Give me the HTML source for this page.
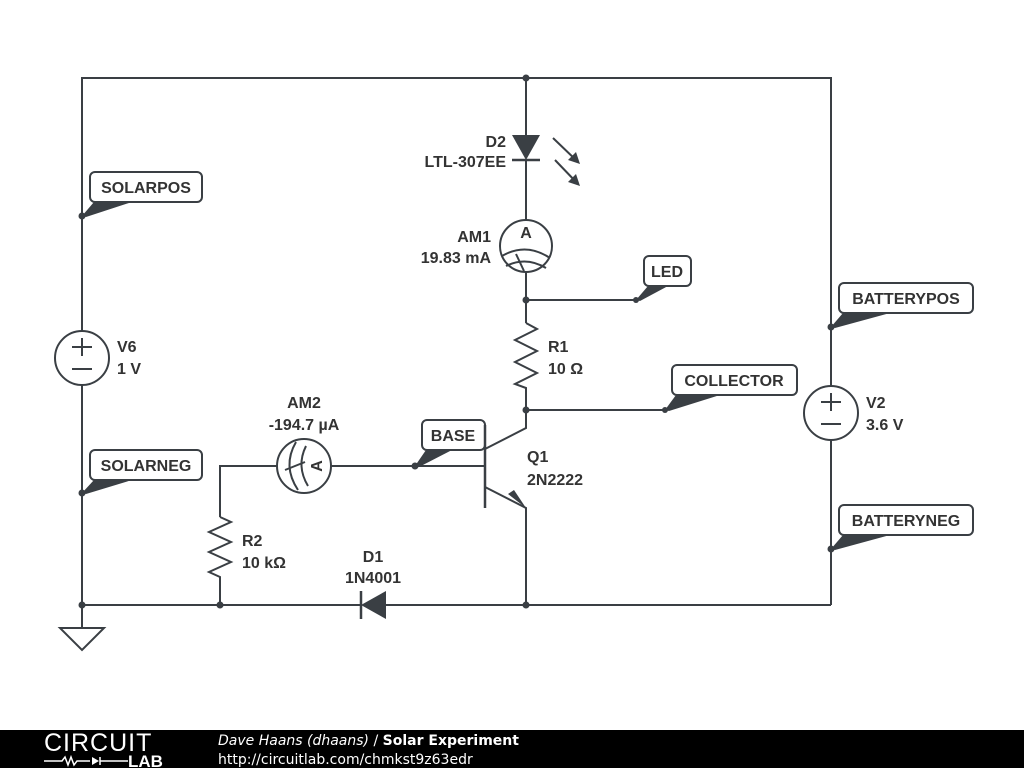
<!DOCTYPE html>
<html><head><meta charset="utf-8"><style>
html,body{margin:0;padding:0;background:#fff;width:1024px;height:768px;overflow:hidden}
svg{display:block}
text{font-family:"Liberation Sans",sans-serif;font-weight:bold;font-size:16px;fill:#333}
.foot{position:absolute;left:0;top:730px;width:1024px;height:38px;background:#000}
</style></head><body>
<svg width="1024" height="730" viewBox="0 0 1024 730">
<g stroke="#3a3f44" stroke-width="2" fill="none">
<polyline points="82,216 82,78 831,78 831,386"/>
<line x1="82" y1="216" x2="82" y2="331"/>
<line x1="82" y1="385" x2="82" y2="628"/>
<line x1="831" y1="440" x2="831" y2="605"/>
<line x1="82" y1="605" x2="361" y2="605"/>
<line x1="386" y1="605" x2="831" y2="605"/>
<line x1="526" y1="78" x2="526" y2="135"/>
<line x1="526" y1="160" x2="526" y2="220"/>
<line x1="526" y1="272" x2="526" y2="323"/>
<polyline points="526,323 537,329 515,340 537,351 515,362 537,373 515,384 526,388 526,428 485,449"/>
<line x1="526" y1="300" x2="636" y2="300"/>
<line x1="526" y1="410" x2="665" y2="410"/>
<line x1="485" y1="425" x2="485" y2="508" stroke-width="2.5"/>
<polyline points="485,487 526,508 526,605"/>
<polyline points="220,517 220,466 277,466"/>
<line x1="331" y1="466" x2="485" y2="466"/>
<polyline points="220,517 231,522 209,532 231,542 209,552 231,562 209,572 220,577 220,605"/>
<line x1="512" y1="160" x2="540" y2="160" stroke-width="2.5"/>
<line x1="361" y1="591" x2="361" y2="619" stroke-width="2.5"/>
<circle cx="526" cy="246" r="26"/>
<circle cx="304" cy="466" r="27"/>
<circle cx="82" cy="358" r="27"/>
<circle cx="831" cy="413" r="27"/>
<path d="M502,256 Q526,242 550,258"/>
<path d="M506,266 Q526,256 546,268"/>
<line x1="516" y1="254" x2="524" y2="271"/>
<path d="M296,442 Q282,466 298,490"/>
<path d="M306,446 Q296,466 308,486"/>
<line x1="285" y1="470" x2="305" y2="462"/>
<line x1="72" y1="347" x2="92" y2="347"/><line x1="82" y1="338" x2="82" y2="356"/><line x1="72" y1="369" x2="92" y2="369"/>
<line x1="821" y1="402" x2="841" y2="402"/><line x1="831" y1="393" x2="831" y2="411"/><line x1="821" y1="424" x2="841" y2="424"/>
<polygon points="60,628 104,628 82,650"/>
<line x1="553" y1="138" x2="578" y2="162"/>
<line x1="555" y1="160" x2="578" y2="184"/>
<rect x="90" y="172" width="112" height="30" rx="5"/>
<rect x="90" y="450" width="112" height="30" rx="5"/>
<rect x="839" y="283" width="134" height="30" rx="5"/>
<rect x="839" y="505" width="134" height="30" rx="5"/>
<rect x="644" y="256" width="47" height="30" rx="5"/>
<rect x="672" y="365" width="125" height="30" rx="5"/>
<rect x="422" y="420" width="63" height="30" rx="5"/>
</g>
<g fill="#3a3f44">
<polygon points="512,135 540,135 526,160"/>
<polygon points="386,591 386,619 361,605"/>
<polygon points="526,508 508,494 514,490"/>
<polygon points="580,164 568,160 576,152"/>
<polygon points="580,186 568,182 576,174"/>
<polygon points="82,216 94,202 132,202 86,217"/>
<polygon points="82,493 94,480 132,480 86,494"/>
<polygon points="831,327 843,313 890,313 835,328"/>
<polygon points="831,549 843,535 890,535 835,550"/>
<polygon points="636,300 648,286 668,286 640,301"/>
<polygon points="665,410 676,395 720,395 669,411"/>
<polygon points="415,466 426,450 452,450 419,467"/>
<circle cx="526" cy="78" r="3.5"/><circle cx="526" cy="300" r="3.5"/><circle cx="526" cy="410" r="3.5"/>
<circle cx="526" cy="605" r="3.5"/><circle cx="220" cy="605" r="3.5"/><circle cx="82" cy="605" r="3.5"/>
<circle cx="82" cy="216" r="3.5"/><circle cx="82" cy="493" r="3.5"/><circle cx="831" cy="327" r="3.5"/>
<circle cx="831" cy="549" r="3.5"/><circle cx="415" cy="466" r="3.5"/><circle cx="636" cy="300" r="3"/><circle cx="665" cy="410" r="3"/>
</g>
<text x="526" y="238" text-anchor="middle" font-size="17">A</text>
<text x="316" y="472" text-anchor="middle" font-size="17" transform="rotate(-90 316 466)">A</text>
<text x="506" y="147" text-anchor="end">D2</text>
<text x="506" y="167" text-anchor="end">LTL-307EE</text>
<text x="491" y="242" text-anchor="end">AM1</text>
<text x="491" y="263" text-anchor="end">19.83 mA</text>
<text x="548" y="352">R1</text>
<text x="548" y="374">10 Ω</text>
<text x="527" y="462">Q1</text>
<text x="527" y="485">2N2222</text>
<text x="304" y="408" text-anchor="middle">AM2</text>
<text x="304" y="430" text-anchor="middle">-194.7 µA</text>
<text x="242" y="546">R2</text>
<text x="242" y="568">10 kΩ</text>
<text x="373" y="562" text-anchor="middle">D1</text>
<text x="373" y="583" text-anchor="middle">1N4001</text>
<text x="117" y="352">V6</text>
<text x="117" y="374">1 V</text>
<text x="866" y="408">V2</text>
<text x="866" y="430">3.6 V</text>
<text x="146" y="193" text-anchor="middle">SOLARPOS</text>
<text x="146" y="471" text-anchor="middle">SOLARNEG</text>
<text x="906" y="304" text-anchor="middle">BATTERYPOS</text>
<text x="906" y="526" text-anchor="middle">BATTERYNEG</text>
<text x="667" y="277" text-anchor="middle">LED</text>
<text x="734" y="386" text-anchor="middle">COLLECTOR</text>
<text x="453" y="441" text-anchor="middle">BASE</text>
</svg>
<div class="foot">
<svg width="1024" height="38" style="position:absolute;left:0;top:0">
<text x="44" y="21" style="font-weight:normal;font-size:25px;fill:#fff;letter-spacing:1px">CIRCUIT</text>
<polyline points="44,31 62,31 65,27 68,35 71,27 74,35 77,31 90,31" stroke="#fff" stroke-width="1.5" fill="none"/>
<polygon points="92,27 92,35 99,31" fill="#fff"/><line x1="100" y1="27" x2="100" y2="35" stroke="#fff" stroke-width="1.5"/>
<line x1="100" y1="31" x2="128" y2="31" stroke="#fff" stroke-width="1.5"/>
<text x="128" y="37" style="font-size:17px;fill:#fff">LAB</text>
<text x="218" y="15" style="font-family:'DejaVu Sans',sans-serif;font-weight:normal;font-style:italic;font-size:14px;fill:#fff">Dave Haans (dhaans) <tspan font-style="normal">/</tspan> <tspan font-style="normal" font-weight="bold">Solar Experiment</tspan></text>
<text x="218" y="34" style="font-family:'DejaVu Sans',sans-serif;font-weight:normal;font-size:14px;fill:#fff">http://circuitlab.com/chmkst9z63edr</text>
</svg>
</div>
</body></html>
